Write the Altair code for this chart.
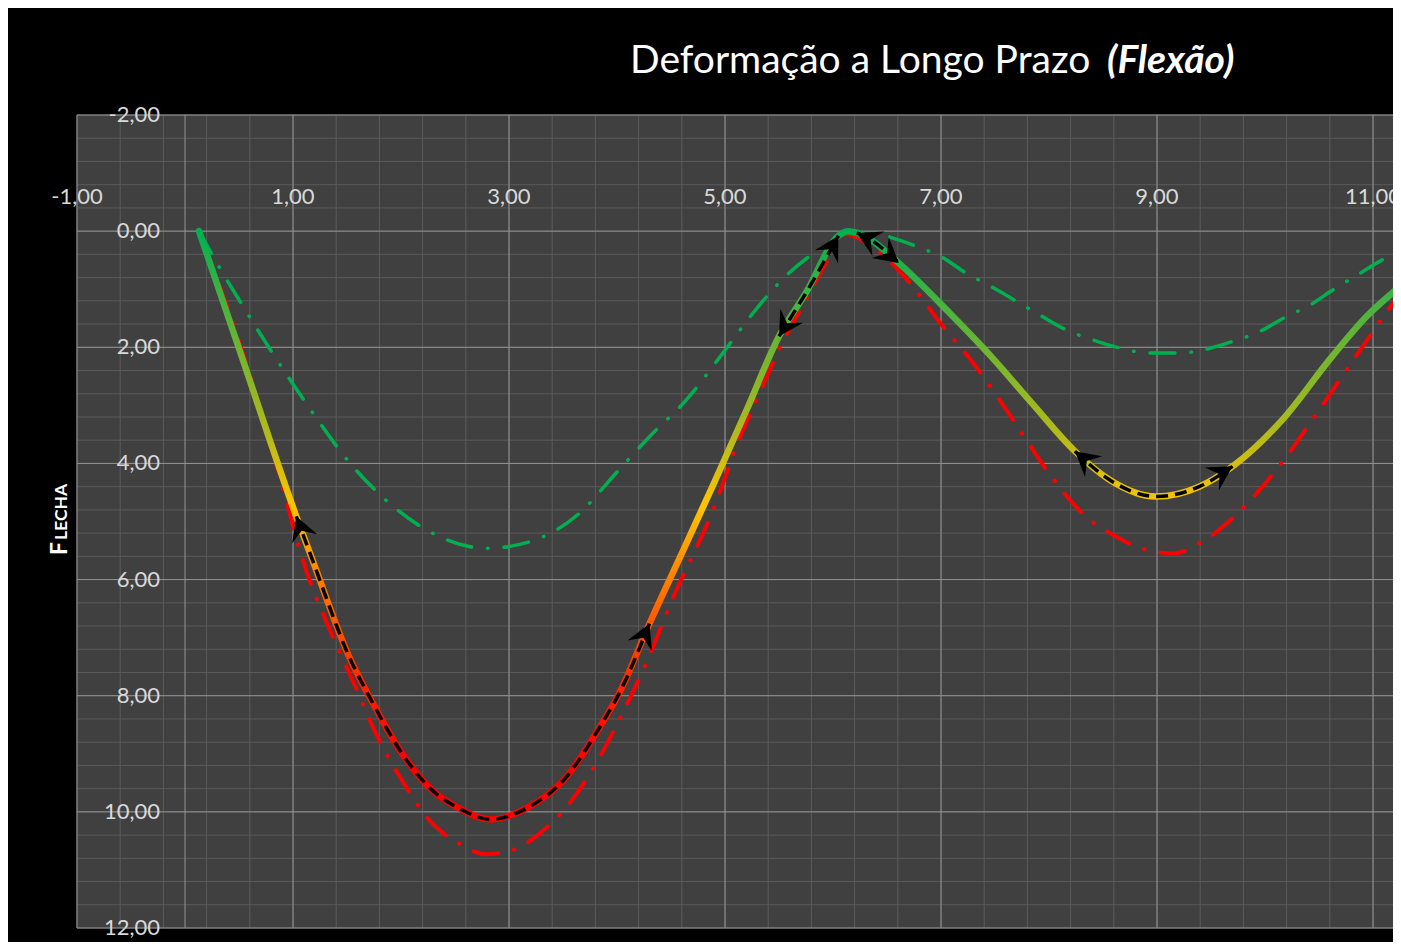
import altair as alt
import numpy as np
import pandas as pd

# ---------------- data ----------------
main_x = [0.13, 0.50, 1.03, 1.18, 1.52, 1.74, 1.99, 2.29, 2.54, 2.83, 3.16, 3.53, 3.84, 4.02,
          4.30, 4.60, 4.90, 5.20, 5.50, 5.75, 6.05, 6.14, 6.22, 6.35, 6.61, 7.08,
          7.48, 7.85, 8.24, 8.56, 8.99, 9.39, 9.70, 10.16, 10.62, 10.94, 11.25, 11.50]
main_y = [0.00, 2.02, 4.91, 5.66, 7.33, 8.13, 8.94, 9.63, 9.94, 10.13, 9.94, 9.40, 8.54, 7.96,
          6.76, 5.55, 4.33, 3.08, 1.81, 1.06, 0.08, 0.00, 0.03, 0.15, 0.55, 1.41,
          2.19, 2.98, 3.79, 4.28, 4.57, 4.40, 4.05, 3.25, 2.16, 1.47, 0.95, 0.55]

red_x = [0.13, 0.50, 0.87, 1.09, 1.37, 1.55, 1.80, 1.99, 2.29, 2.54, 2.79, 3.03, 3.28, 3.53,
         3.77, 4.02, 4.27, 4.51, 4.89, 5.13, 5.32, 5.50, 5.75, 6.00, 6.12, 6.31, 6.81, 6.98,
         7.14, 7.31, 7.54, 7.76, 8.00, 8.31, 8.62, 8.90, 9.15, 9.39, 9.81, 10.15, 10.46,
         10.84, 11.25, 11.50]
red_y = [0.00, 1.90, 4.17, 5.66, 6.99, 7.73, 8.77, 9.40, 10.20, 10.55, 10.73, 10.66, 10.38, 9.92,
         9.28, 8.42, 7.44, 6.35, 4.80, 3.59, 2.79, 2.04, 1.18, 0.35, 0.05, 0.20, 1.12, 1.55,
         1.91, 2.30, 2.90, 3.51, 4.17, 4.86, 5.26, 5.49, 5.55, 5.38, 4.74, 4.00, 3.19,
         2.16, 1.10, 0.60]

green_x = [0.13, 0.32, 0.52, 0.81, 1.18, 1.49, 1.86, 2.29, 2.63, 2.80, 3.19, 3.65, 3.99, 4.30,
           4.64, 4.98, 5.26, 5.56, 5.87, 6.21, 6.52, 6.77, 7.02, 7.23, 7.46, 7.91, 8.16, 8.40,
           8.65, 8.93, 9.21, 9.44, 9.70, 9.95, 10.20, 10.42, 10.63, 10.86, 11.09, 11.21, 11.50]
green_y = [0.00, 0.63, 1.24, 2.10, 3.12, 3.91, 4.63, 5.20, 5.43, 5.46, 5.35, 4.86, 4.17, 3.54,
           2.91, 2.10, 1.41, 0.78, 0.32, 0.00, 0.10, 0.26, 0.46, 0.72, 0.95, 1.44, 1.70, 1.87,
           2.01, 2.10, 2.10, 2.04, 1.90, 1.73, 1.47, 1.27, 1.01, 0.75, 0.49, 0.38, 0.10]

# dashed (arrowed) stretches along the main curve
seg_start = [1.03, 5.50, 6.22, 8.24, 11.25]
seg_end = [4.30, 6.05, 6.61, 9.70, 11.50]

x_labels = [-1, 1, 3, 5, 7, 9, 11]
y_labels = [-2, 0, 2, 4, 6, 8, 10, 12]
x_major = [-1, 0, 1, 3, 5, 7, 9, 11]
y_major = [-2, 0, 2, 4, 6, 8, 10, 12]
x_minor = [round(v, 2) for v in np.arange(-1.0, 11.3, 0.4)]
y_minor = [round(v, 2) for v in np.arange(-2.0, 12.01, 0.4)]

title_main = "Deformação a Longo Prazo"
title_bold = "(Flexão)"
y_title_cap = "F"
y_title_rest = "LECHA"

# ---------------- geometry ----------------
W, H = 1316, 813
X_MIN = -1.0
X_MAX = X_MIN + W / 108.0
Y_MIN, Y_MAX = -2.0, 12.0
PX_X = W / (X_MAX - X_MIN)
PX_Y = H / (Y_MAX - Y_MIN)

df_main = pd.DataFrame({"x": main_x, "y": main_y})
df_red = pd.DataFrame({"x": red_x, "y": red_y})
df_green = pd.DataFrame({"x": green_x, "y": green_y})


def fmt(v):
    return f"{v:.2f}".replace(".", ",")


df_xlab = pd.DataFrame({"v": x_labels, "t": [fmt(v) for v in x_labels]})
df_ylab = pd.DataFrame({"v": y_labels, "t": [fmt(v) for v in y_labels]})

dash_rows, arrow_rows = [], []
mx = np.array(main_x)
my = np.array(main_y)


def angle_of(dx, dy):
    sx, sy = dx * PX_X, dy * PX_Y
    return float(np.degrees(np.arctan2(sx, -sy)) % 360)


for k, (s, e) in enumerate(zip(seg_start, seg_end)):
    idx = [i for i in range(len(mx)) if s - 1e-9 <= mx[i] <= e + 1e-9]
    for i in idx:
        dash_rows.append({"x": mx[i], "y": my[i], "seg": k})
    i0, i1 = idx[0], idx[-1]
    if len(idx) > 1:
        arrow_rows.append({"x": mx[i0], "y": my[i0],
                           "ang": angle_of(mx[i0] - mx[i0 + 1], my[i0] - my[i0 + 1])})
        if e < 11.4:
            arrow_rows.append({"x": mx[i1], "y": my[i1],
                               "ang": angle_of(mx[i1] - mx[i1 - 1], my[i1] - my[i1 - 1])})
df_dash = pd.DataFrame(dash_rows)
df_arrow = pd.DataFrame(arrow_rows)

xs = alt.Scale(domain=[X_MIN, X_MAX], nice=False, zero=False)
ys = alt.Scale(domain=[Y_MIN, Y_MAX], reverse=True, nice=False, zero=False)
X = lambda f: alt.X(f, scale=xs, axis=None)
Y = lambda f: alt.Y(f, scale=ys, axis=None)

# pixel position of the value 0 on each axis (where the axes cross)
x0_px = (0 - X_MIN) * PX_X
y0_px = (0 - Y_MIN) * PX_Y


# ---------------- layers ----------------
def vrules(vals, color):
    return alt.Chart(pd.DataFrame({"v": vals})).mark_rule(color=color, strokeWidth=1).encode(
        x=X("v:Q"))


def hrules(vals, color):
    return alt.Chart(pd.DataFrame({"v": vals})).mark_rule(color=color, strokeWidth=1).encode(
        y=Y("v:Q"))


grid_minor_x = vrules(x_minor, "#5A5A5A")
grid_minor_y = hrules(y_minor, "#5A5A5A")
grid_major_x = vrules(x_major, "#939393")
grid_major_y = hrules(y_major, "#939393")

green = alt.Chart(df_green).mark_line(
    color="#00B050", strokeWidth=3.5, strokeDash=[25, 16, 0.5, 16], strokeCap="round",
    interpolate="monotone", clip=True
).encode(x=X("x:Q"), y=Y("y:Q"), order="x:Q")

red = alt.Chart(df_red).mark_line(
    color="#FF0000", strokeWidth=4, strokeDash=[25, 16, 0.5, 16], strokeCap="round",
    interpolate="monotone", clip=True
).encode(x=X("x:Q"), y=Y("y:Q"), order="x:Q")

grad = alt.Gradient(
    gradient="linear", x1=0, x2=0, y1=0, y2=1,
    stops=[
        alt.GradientStop(color="#00B050", offset=0.0),
        alt.GradientStop(color="#3BB244", offset=0.1),
        alt.GradientStop(color="#6EB532", offset=0.2),
        alt.GradientStop(color="#B0BA1C", offset=0.34),
        alt.GradientStop(color="#FFC400", offset=0.47),
        alt.GradientStop(color="#FF8C00", offset=0.57),
        alt.GradientStop(color="#FF5500", offset=0.67),
        alt.GradientStop(color="#FF2200", offset=0.78),
        alt.GradientStop(color="#FF0000", offset=0.9),
        alt.GradientStop(color="#FF0000", offset=1.0),
    ],
)

main = alt.Chart(df_main).mark_line(
    color=grad, strokeWidth=6.5, strokeCap="round", strokeJoin="round",
    interpolate="monotone", clip=True
).encode(x=X("x:Q"), y=Y("y:Q"), order="x:Q")

dashes = alt.Chart(df_dash).mark_line(
    color="#000000", strokeWidth=3.5, strokeDash=[12, 7], interpolate="monotone", clip=True
).encode(x=X("x:Q"), y=Y("y:Q"), detail="seg:N", order="x:Q")

arrows = alt.Chart(df_arrow).mark_point(
    shape="M0,0 L1,1.8 L0,1.15 L-1,1.8 Z", filled=True, color="#000000", opacity=1,
    size=720, strokeWidth=0
).encode(x=X("x:Q"), y=Y("y:Q"), angle=alt.Angle("ang:Q", scale=None))

xlab = alt.Chart(df_xlab).mark_text(
    font="Lato", fontSize=22, color="#D9D9D9", align="center", baseline="alphabetic"
).encode(x=X("v:Q"), y=alt.value(y0_px - 27), text="t:N")

ylab = alt.Chart(df_ylab).mark_text(
    font="Lato", fontSize=22, color="#D9D9D9", align="right", baseline="middle"
).encode(y=Y("v:Q"), x=alt.value(x0_px - 25), text="t:N")

one = alt.Data(values=[{}])
t1 = alt.Chart(one).mark_text(
    text=title_main, font="Lato", fontSize=39, color="#FFFFFF", align="left",
    baseline="alphabetic"
).encode(x=alt.value(553), y=alt.value(-42))
t2 = alt.Chart(one).mark_text(
    text=title_bold, font="Lato", fontSize=39, fontWeight="bold", fontStyle="italic",
    color="#FFFFFF", align="left", baseline="alphabetic"
).encode(x=alt.value(1030), y=alt.value(-42))

yt1 = alt.Chart(one).mark_text(
    text=y_title_cap, font="Lato", fontSize=23, fontWeight="bold", color="#FFFFFF",
    align="left", baseline="alphabetic", angle=270
).encode(x=alt.value(-10), y=alt.value(440))
yt2 = alt.Chart(one).mark_text(
    text=y_title_rest, font="Lato", fontSize=17.5, fontWeight="bold", color="#FFFFFF",
    align="left", baseline="alphabetic", angle=270
).encode(x=alt.value(-10), y=alt.value(425))

chart = alt.layer(
    grid_minor_x, grid_minor_y, grid_major_x, grid_major_y,
    green, red, main, dashes, arrows, xlab, ylab, t1, t2, yt1, yt2
).properties(
    width=W, height=H, background="#000000",
    padding={"left": 69, "top": 107, "right": 0, "bottom": 14},
    autosize=alt.AutoSizeParams(type="none"),
).configure_view(fill="#404040", stroke=None)

chart.save("out.html", embed_options={"renderer": "svg", "actions": False})
